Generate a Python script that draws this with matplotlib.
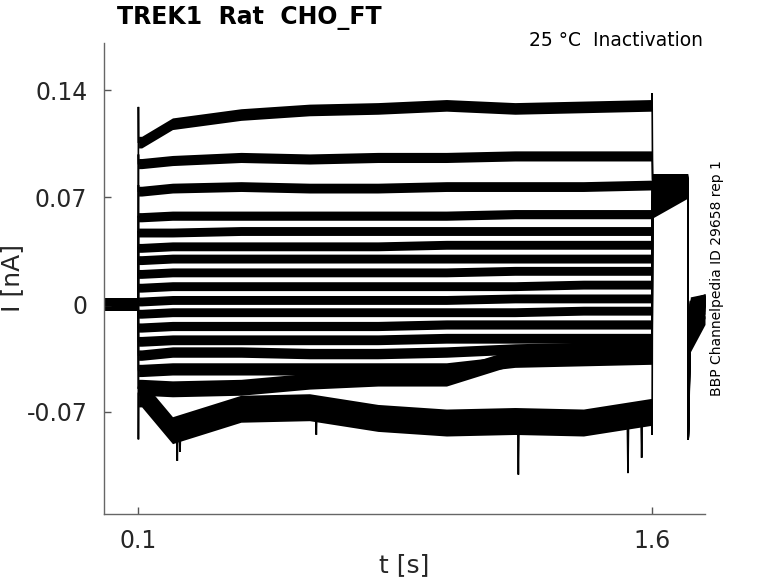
import matplotlib
matplotlib.use("Agg")
import matplotlib.pyplot as plt
import numpy as np

# ---------------- data ----------------
title = "TREK1  Rat  CHO_FT"
subtitle = "25 °C  Inactivation"
side_note = "BBP Channelpedia ID 29658 rep 1"
x_ticks = [0.1, 1.6]
x_tick_labels = ["0.1", "1.6"]
y_ticks = [-0.07, 0, 0.07, 0.14]
y_tick_labels = ["-0.07", "0", "0.07", "0.14"]

# phase boundaries [s]
t_start = 0.0
t_on = 0.1
t_test = 1.6
t_off = 1.705
t_end = 1.755

holding_level = 0.0

# conditioning-step current at these times [s]
t_knots = [0.11, 0.2, 0.4, 0.6, 0.8, 1.0, 1.2, 1.4, 1.6]
step_levels = [
    [0.106, 0.118, 0.124, 0.127, 0.128, 0.130, 0.128, 0.129, 0.130],
    [0.092, 0.094, 0.096, 0.095, 0.096, 0.096, 0.097, 0.097, 0.097],
    [0.074, 0.076, 0.077, 0.076, 0.076, 0.077, 0.077, 0.077, 0.078],
    [0.057, 0.058, 0.058, 0.058, 0.058, 0.058, 0.059, 0.059, 0.059],
    [0.047, 0.047, 0.048, 0.048, 0.048, 0.048, 0.048, 0.048, 0.048],
    [0.037, 0.038, 0.038, 0.038, 0.038, 0.039, 0.039, 0.039, 0.039],
    [0.029, 0.030, 0.030, 0.030, 0.030, 0.030, 0.030, 0.030, 0.030],
    [0.020, 0.021, 0.021, 0.021, 0.021, 0.021, 0.022, 0.022, 0.022],
    [0.011, 0.012, 0.012, 0.012, 0.012, 0.012, 0.012, 0.013, 0.013],
    [0.002, 0.003, 0.003, 0.003, 0.003, 0.003, 0.004, 0.004, 0.004],
    [-0.006, -0.005, -0.005, -0.005, -0.005, -0.005, -0.005, -0.004, -0.004],
    [-0.015, -0.014, -0.014, -0.014, -0.014, -0.013, -0.013, -0.013, -0.013],
    [-0.024, -0.023, -0.023, -0.023, -0.023, -0.022, -0.022, -0.022, -0.022],
    [-0.033, -0.031, -0.031, -0.032, -0.032, -0.031, -0.029, -0.028, -0.028],
    [-0.043, -0.042, -0.042, -0.042, -0.042, -0.042, -0.037, -0.036, -0.035],
    [-0.054, -0.055, -0.054, -0.050, -0.048, -0.048, -0.034, -0.033, -0.032],
    [-0.058, -0.082, -0.068, -0.067, -0.074, -0.077, -0.076, -0.077, -0.070],
]
# noise half-width of each trace band [nA]
band_halfwidth = [0.0038, 0.0033, 0.0032, 0.0030, 0.0029, 0.0029, 0.0029, 0.0029,
                  0.0029, 0.0029, 0.0029, 0.0030, 0.0032, 0.0034, 0.0040, 0.0052, 0.0088]

# onset transient at t_on and at t_test (peak values) [nA]
onset_peak = [0.129, 0.098, 0.078, 0.058, 0.048, 0.038, 0.030, 0.021, 0.012,
              0.003, -0.005, -0.014, -0.023, -0.031, -0.042, -0.055, -0.088]
test_peak = [0.138, 0.097, 0.078, 0.059, 0.048, 0.039, 0.030, 0.022, 0.013,
             0.004, -0.004, -0.013, -0.022, -0.028, -0.035, -0.032, -0.085]

# test pulse current: value just after t_test and just before t_off [nA]
test_start = [0.082, 0.081, 0.080, 0.080, 0.079, 0.079, 0.078, 0.078, 0.077,
              0.076, 0.075, 0.073, 0.071, 0.069, 0.066, 0.063, 0.060]
test_end = [0.082, 0.082, 0.081, 0.081, 0.080, 0.080, 0.080, 0.079, 0.079,
            0.078, 0.078, 0.077, 0.077, 0.076, 0.075, 0.074, 0.073]

# tail: transient minimum, then value at 1.712 s and at the end [nA]
tail_min = -0.088
tail_early = [0.002, 0.001, 0.000, -0.001, -0.002, -0.003, -0.004, -0.005, -0.006,
              -0.008, -0.010, -0.012, -0.014, -0.016, -0.019, -0.023, -0.028]
tail_late = [0.004, 0.004, 0.004, 0.003, 0.003, 0.003, 0.003, 0.002, 0.002,
             0.002, 0.001, 0.001, 0.000, -0.001, -0.003, -0.006, -0.010]

# occasional large excursions of the lowest trace (t [s], I [nA])
spike_t = [0.214, 0.222, 0.62, 1.21, 1.53, 1.57]
spike_v = [-0.102, -0.096, -0.085, -0.111, -0.110, -0.100]

# ---------------- figure ----------------
W, H = 778, 583
fig = plt.figure(figsize=(W / 100, H / 100), dpi=100)
ax = fig.add_axes([104 / W, 1 - 514 / H, (705 - 104) / W, (514 - 43) / H])

ink = "black"
text_col = "#262626"
n = len(step_levels)

# holding segment band (all traces overlap)
ax.fill_between([t_start, t_on], [holding_level - 0.0045] * 2,
                [holding_level + 0.0045] * 2, color=ink, lw=0)

for i in range(n):
    lv = step_levels[i]
    hw = band_halfwidth[i]
    # thin trace line with transients
    tt = [t_start, t_on, t_on + 0.0005, t_on + 0.001] + t_knots[:-1] + \
         [t_test, t_test + 0.0005, t_test + 0.002, t_off, t_off + 0.0008,
          t_off + 0.007, t_end]
    vv = [holding_level, holding_level, onset_peak[i], lv[0]] + lv[:-1] + \
         [lv[-1], test_peak[i], test_start[i], test_end[i], tail_min,
          tail_early[i], tail_late[i]]
    if i == n - 1:
        pts = sorted(zip(tt, vv))
        for st, sv in zip(spike_t, spike_v):
            pts.append((st - 0.002, np.interp(st, t_knots, lv)))
            pts.append((st, sv))
            pts.append((st + 0.002, np.interp(st, t_knots, lv)))
        pts.sort()
        tt = [p[0] for p in pts]
        vv = [p[1] for p in pts]
    ax.plot(tt, vv, color=ink, lw=1.2, solid_joinstyle="miter")

    # noise bands
    kt = [t_on + 0.001] + t_knots
    kv = np.array([lv[0]] + lv)
    ax.fill_between(kt, kv - hw, kv + hw, color=ink, lw=0)
    tv = np.array([test_start[i], test_end[i]])
    ax.fill_between([t_test + 0.002, t_off], tv - 0.0035, tv + 0.0035, color=ink, lw=0)
    av = np.array([tail_early[i], tail_late[i]])
    ax.fill_between([t_off + 0.007, t_end], av - 0.003, av + 0.003, color=ink, lw=0)

ax.set_xlim(0.0, 1.755)
ax.set_ylim(-0.1367, 0.1707)

ax.set_xticks(x_ticks)
ax.set_xticklabels(x_tick_labels)
ax.set_yticks(y_ticks)
ax.set_yticklabels(y_tick_labels)
ax.tick_params(direction="in", length=5, width=1, colors="#555555",
               labelcolor=text_col, labelsize=17)
ax.tick_params(axis="x", pad=11)
ax.tick_params(axis="y", pad=12)
for side in ["top", "right"]:
    ax.spines[side].set_visible(False)
for side in ["left", "bottom"]:
    ax.spines[side].set_color("#666666")
    ax.spines[side].set_linewidth(1)

ax.set_xlabel("t [s]", fontsize=18, color=text_col, labelpad=0)
ax.set_ylabel("I [nA]", fontsize=18, color=text_col, labelpad=2)

fig.text(117 / W, 1 - 18 / H, title, fontsize=17, fontweight="bold",
         ha="left", va="center", color="black")
fig.text(703 / W, 1 - 40 / H, subtitle, fontsize=13.5, ha="right",
         va="center", color="black")
fig.text(717 / W, 1 - 278 / H, side_note, fontsize=10, rotation=90,
         ha="center", va="center", color="black")

fig.savefig("out.png", dpi=100)
